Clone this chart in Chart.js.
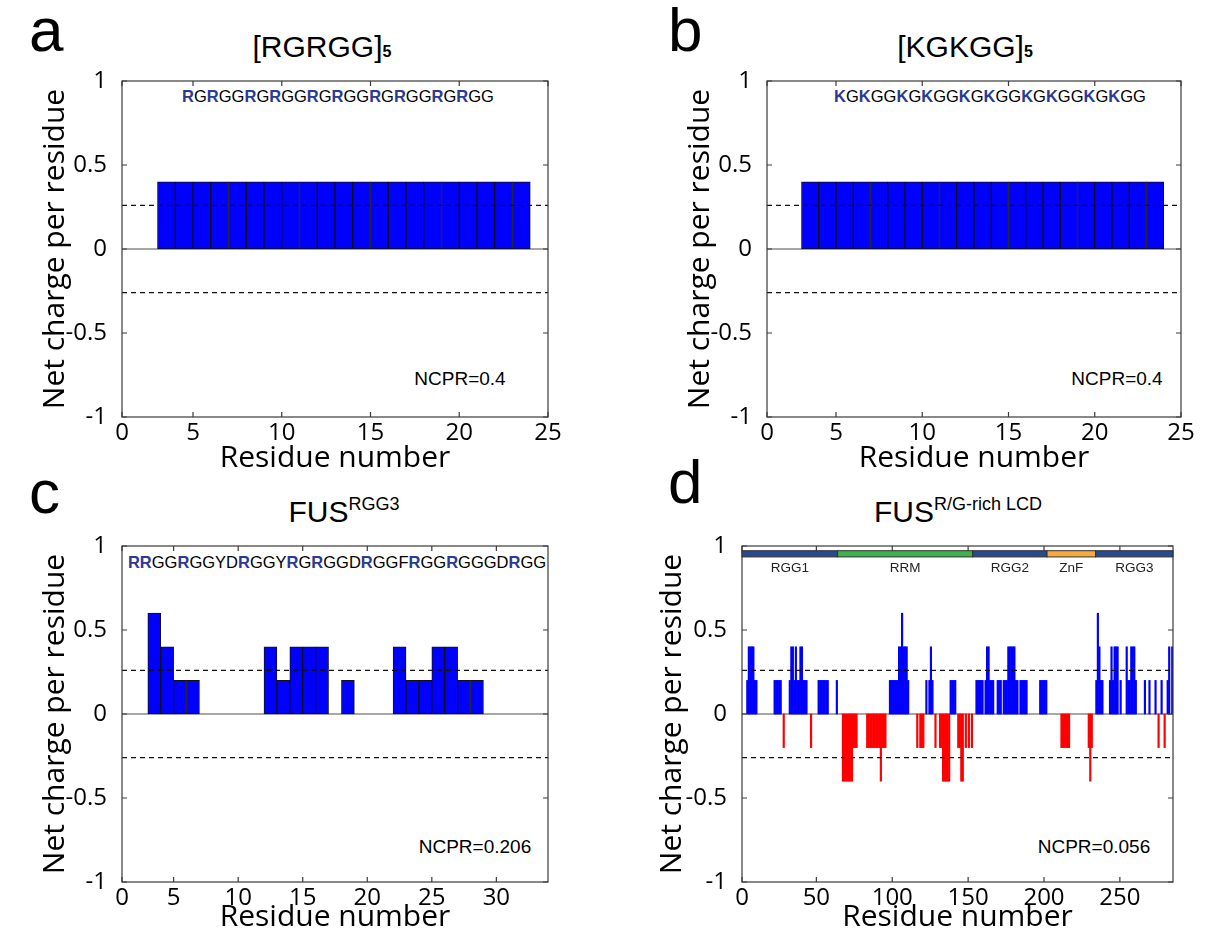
<!DOCTYPE html>
<html>
<head>
<meta charset="utf-8">
<script src="https://cdn.jsdelivr.net/npm/chart.js@4.4.1/dist/chart.umd.min.js"></script>
<style>
  body { margin: 0; background: #fff; width: 1209px; height: 938px; position: relative; overflow: hidden;
         font-family: "Liberation Sans", Arial, sans-serif; color: #000; }
  .pane { position: absolute; }
  .letter { position: absolute; font-size: 62px; line-height: 1; }
  .ttl { position: absolute; font-size: 30px; line-height: 1; transform: translateX(-50%); white-space: nowrap; }
  .ttl .sb { font-size: 16px; font-weight: bold; }
  .ttl sup { font-size: 18px; vertical-align: 12px; line-height: 0; }
  .seq { position: absolute; font-size: 16.5px; line-height: 1; transform: translateX(-50%); white-space: nowrap; }
  .seq b { color: #2b3a92; }
  .ncpr { position: absolute; font-size: 19px; line-height: 1; transform: translateX(-50%); white-space: nowrap; }
</style>
</head>
<body>

<div class="letter" style="left:29px;top:-1px">a</div>
<div class="letter" style="left:668px;top:-1px">b</div>
<div class="letter" style="left:29px;top:461px">c</div>
<div class="letter" style="left:668px;top:451px">d</div>

<div class="ttl" style="left:322px;top:32px">[RGRGG]<span class="sb">5</span></div>
<div class="ttl" style="left:965px;top:32px">[KGKGG]<span class="sb">5</span></div>
<div class="ttl" style="left:344px;top:497px">FUS<sup>RGG3</sup></div>
<div class="ttl" style="left:958px;top:497px">FUS<sup>R/G-rich LCD</sup></div>

<div class="seq" style="left:338px;top:88px"><b>R</b>G<b>R</b>GG<b>R</b>G<b>R</b>GG<b>R</b>G<b>R</b>GG<b>R</b>G<b>R</b>GG<b>R</b>G<b>R</b>GG</div>
<div class="seq" style="left:990px;top:88px"><b>K</b>G<b>K</b>GG<b>K</b>G<b>K</b>GG<b>K</b>G<b>K</b>GG<b>K</b>G<b>K</b>GG<b>K</b>G<b>K</b>GG</div>
<div class="seq" style="left:337px;top:554px"><b>RR</b>GG<b>R</b>GGYD<b>R</b>GGY<b>R</b>G<b>R</b>GGD<b>R</b>GGF<b>R</b>GG<b>R</b>GGGD<b>R</b>GG</div>

<div class="ncpr" style="left:460px;top:369px">NCPR=0.4</div>
<div class="ncpr" style="left:1117px;top:369px">NCPR=0.4</div>
<div class="ncpr" style="left:475px;top:837px">NCPR=0.206</div>
<div class="ncpr" style="left:1094px;top:837px">NCPR=0.056</div>

<canvas id="panelA" class="pane"></canvas>
<canvas id="panelB" class="pane"></canvas>
<canvas id="panelC" class="pane"></canvas>
<canvas id="panelD" class="pane"></canvas>

<script>
// values: net charge per residue, window centred on each residue

const yTickVals = [-1, -0.5, 0, 0.5, 1];
const yTickText = ['-1', '-0.5', '0', '0.5', '1'];
const cutoffs = [0.26, -0.26];

// a: [RGRGG]5
const residuesA = [3, 4, 5, 6, 7, 8, 9, 10, 11, 12, 13, 14, 15, 16, 17, 18, 19, 20, 21, 22, 23];
const ncprA = [0.4, 0.4, 0.4, 0.4, 0.4, 0.4, 0.4, 0.4, 0.4, 0.4, 0.4, 0.4, 0.4, 0.4, 0.4, 0.4, 0.4, 0.4, 0.4, 0.4, 0.4];
// b: [KGKGG]5
const residuesB = [3, 4, 5, 6, 7, 8, 9, 10, 11, 12, 13, 14, 15, 16, 17, 18, 19, 20, 21, 22, 23];
const ncprB = [0.4, 0.4, 0.4, 0.4, 0.4, 0.4, 0.4, 0.4, 0.4, 0.4, 0.4, 0.4, 0.4, 0.4, 0.4, 0.4, 0.4, 0.4, 0.4, 0.4, 0.4];
const xTicksAB = [1, 5, 10, 15, 20, 25];
const xTickTextAB = ['0', '5', '10', '15', '20', '25'];

// c: FUS RGG3
const residuesC = [3, 4, 5, 6, 7, 8, 9, 10, 11, 12, 13, 14, 15, 16, 17, 18, 19, 20, 21, 22, 23, 24, 25, 26, 27, 28, 29, 30, 31, 32];
const ncprC = [0.6, 0.4, 0.2, 0.2, 0, 0, 0, 0, 0, 0.4, 0.2, 0.4, 0.4, 0.4, 0, 0.2, 0, 0, 0, 0.4, 0.2, 0.2, 0.4, 0.4, 0.2, 0.2, 0, 0, 0, 0];
const xTicksC = [1, 5, 10, 15, 20, 25, 30];
const xTickTextC = ['0', '5', '10', '15', '20', '25', '30'];

// d: FUS R/G-rich LCD, residues 1..284
const ncprD = [
  0, 0, 0, 0.2, 0.4, 0.4, 0.4, 0.4, 0.2, 0.2,
  0, 0, 0, 0, 0, 0, 0, 0, 0, 0,
  0, 0.2, 0.2, 0.2, 0.2, 0.2, 0, -0.2, 0, 0,
  0, 0.2, 0.4, 0.4, 0.2, 0.4, 0.2, 0.2, 0.4, 0.4,
  0.2, 0.2, 0.2, 0, 0, -0.2, 0, 0, 0, 0,
  0.2, 0.2, 0.2, 0.2, 0.2, 0.2, 0.2, 0, 0, 0,
  0, 0, 0.2, 0, 0, 0, -0.4, -0.4, -0.4, -0.4,
  -0.4, -0.4, -0.4, -0.2, -0.2, -0.2, 0, 0, 0, 0,
  0, 0, -0.2, -0.2, -0.2, -0.2, -0.2, -0.2, -0.2, -0.2,
  -0.2, -0.4, -0.2, -0.2, -0.2, 0, 0, 0.2, 0.2, 0.2,
  0.2, 0.2, 0.2, 0.4, 0.4, 0.6, 0.4, 0.4, 0.4, 0.2,
  0, 0, 0, 0, 0, -0.2, 0, -0.2, -0.2, -0.2,
  0, 0.2, 0, 0.2, 0.4, 0.2, 0, -0.2, 0, 0,
  -0.2, -0.2, -0.4, -0.4, -0.4, -0.4, -0.4, 0.2, 0.2, 0.2,
  0.2, 0, -0.2, -0.2, -0.4, -0.4, 0, -0.2, 0, -0.2,
  0, -0.2, 0, 0, 0.2, 0.2, 0.2, 0.2, 0.2, 0,
  0.2, 0.4, 0.4, 0.2, 0.2, 0.2, 0, 0, 0.2, 0.2,
  0.2, 0, 0.2, 0.2, 0.2, 0.4, 0.4, 0.4, 0.4, 0.4,
  0.2, 0.2, 0, 0.2, 0.2, 0.2, 0.2, 0.2, 0, 0,
  0, 0, 0, 0, 0, 0, 0.2, 0.2, 0.2, 0.2,
  0.2, 0, 0, 0, 0, 0, 0, 0, 0, 0,
  -0.2, -0.2, -0.2, -0.2, -0.2, -0.2, 0, 0, 0, 0,
  0, 0, 0, 0, 0, 0, 0, 0, -0.2, -0.4,
  -0.2, 0, 0, 0.2, 0.6, 0.4, 0.2, 0.2, 0, 0,
  0, 0, 0.2, 0.4, 0.2, 0.4, 0.4, 0.4, 0, 0.2,
  0, 0, 0, 0.4, 0.2, 0.2, 0.4, 0.4, 0.4, 0.2,
  0, 0, 0, 0, 0, 0.2, 0, 0, 0.2, 0,
  0, 0, 0.2, 0, -0.2, 0, 0.2, 0, -0.2, 0,
  0.2, 0.4, 0, 0.4
];
const xTicksD = [1, 50, 100, 150, 200, 250];
const xTickTextD = ['0', '50', '100', '150', '200', '250'];

// domain map above panel d
const domainNames = ['RGG1', 'RRM', 'RGG2', 'ZnF', 'RGG3'];
const domainStart = [1, 64, 153, 202, 234];
const domainEnd = [64, 153, 202, 234, 285];
const domainColors = ['#284a90', '#3cb44b', '#284a90', '#f8a93e', '#284a90'];

const tickFont = { family: 'Open Sans', size: 24, lineHeight: 1 };
const titleFont = { family: 'Open Sans', size: 30, lineHeight: 1 };

// frame, zero line, dashed cut-offs, inward ticks (MATLAB look)
const framePlugin = {
  id: 'frame',
  beforeDatasetsDraw(chart) {
    const { ctx, chartArea: a, scales: { y } } = chart;
    const y0 = y.getPixelForValue(0);
    ctx.save();
    ctx.strokeStyle = '#8a8a8a';
    ctx.lineWidth = 1.3;
    ctx.beginPath();
    ctx.moveTo(a.left, y0);
    ctx.lineTo(a.right, y0);
    ctx.stroke();
    ctx.restore();
  },
  afterDatasetsDraw(chart) {
    const { ctx, chartArea: a, scales: { x, y } } = chart;
    ctx.save();
    ctx.strokeStyle = '#111';
    ctx.lineWidth = 1.3;
    ctx.setLineDash([5, 4]);
    cutoffs.forEach(c => {
      const py = y.getPixelForValue(c);
      ctx.beginPath();
      ctx.moveTo(a.left, py);
      ctx.lineTo(a.right, py);
      ctx.stroke();
    });
    ctx.setLineDash([]);
    ctx.strokeStyle = '#3a3a3a';
    ctx.lineWidth = 1.2;
    ctx.strokeRect(a.left, a.top, a.right - a.left, a.bottom - a.top);
    const len = 5;
    ctx.beginPath();
    x.ticks.forEach(t => {
      const px = x.getPixelForValue(t.value);
      ctx.moveTo(px, a.bottom); ctx.lineTo(px, a.bottom - len);
      ctx.moveTo(px, a.top); ctx.lineTo(px, a.top + len);
    });
    y.ticks.forEach(t => {
      const py = y.getPixelForValue(t.value);
      ctx.moveTo(a.left, py); ctx.lineTo(a.left + len, py);
      ctx.moveTo(a.right, py); ctx.lineTo(a.right - len, py);
    });
    ctx.stroke();
    ctx.restore();
  }
};

const domainPlugin = {
  id: 'domains',
  afterDatasetsDraw(chart) {
    const { ctx, scales: { x, y } } = chart;
    const top = y.getPixelForValue(0.972);
    const bot = y.getPixelForValue(0.935);
    ctx.save();
    domainNames.forEach((name, i) => {
      const x0 = x.getPixelForValue(domainStart[i]);
      const x1 = x.getPixelForValue(domainEnd[i]);
      ctx.fillStyle = domainColors[i];
      ctx.fillRect(x0, top, x1 - x0, bot - top);
      ctx.strokeStyle = '#333';
      ctx.lineWidth = 1;
      ctx.strokeRect(x0, top, x1 - x0, bot - top);
      ctx.fillStyle = '#222';
      ctx.font = '13.5px "Liberation Sans", Arial, sans-serif';
      ctx.textAlign = 'center';
      ctx.textBaseline = 'middle';
      ctx.fillText(name, (x0 + x1) / 2, bot + 11);
    });
    ctx.restore();
  }
};

function makePanel(id, box, area, cfg) {
  const cv = document.getElementById(id);
  cv.width = box.w; cv.height = box.h;
  cv.style.left = box.x + 'px'; cv.style.top = box.y + 'px';
  cv.style.width = box.w + 'px'; cv.style.height = box.h + 'px';
  return new Chart(cv.getContext('2d'), {
    type: 'bar',
    data: {
      datasets: [{
        data: cfg.x.map((r, i) => ({ x: r + 0.5, y: cfg.y[i] })),
        backgroundColor: cfg.color,
        borderColor: cfg.border,
        // empty windows get no outline and no anti-alias inflation
        borderWidth: c => (c.raw && c.raw.y === 0 ? 0 : cfg.borderWidth),
        inflateAmount: c => (c.raw && c.raw.y === 0 ? 0 : 'auto'),
        borderSkipped: false,
        barPercentage: 1,
        categoryPercentage: 1
      }]
    },
    options: {
      responsive: false,
      animation: false,
      layout: { padding: { top: area.t - box.y, right: box.x + box.w - area.r, left: 0, bottom: 0 } },
      plugins: { legend: { display: false }, tooltip: { enabled: false } },
      scales: {
        x: {
          type: 'linear', min: cfg.xmin, max: cfg.xmax, offset: false,
          grid: { display: false }, border: { display: false },
          afterBuildTicks: s => { s.ticks = cfg.xt.map(v => ({ value: v })); },
          afterFit: s => { s.height = box.y + box.h - area.b; },
          ticks: { autoSkip: false, maxRotation: 0, padding: -4, color: '#000', font: tickFont,
                   callback: (v, i) => cfg.xl[i] },
          title: { display: true, text: 'Residue number', color: '#000', font: titleFont,
                   padding: { top: 0, bottom: cfg.xtPad } }
        },
        y: {
          min: -1, max: 1,
          grid: { display: false }, border: { display: false },
          afterBuildTicks: s => { s.ticks = yTickVals.map(v => ({ value: v })); },
          afterFit: s => { s.width = area.l - box.x; },
          ticks: { autoSkip: false, padding: 7, color: '#000', font: tickFont,
                   callback: (v, i) => yTickText[i] },
          title: { display: true, text: 'Net charge per residue', color: '#000', font: titleFont,
                   padding: { top: cfg.ytPad, bottom: 0 } }
        }
      }
    },
    plugins: cfg.extra ? [framePlugin, cfg.extra] : [framePlugin]
  });
}

makePanel('panelA', { x: 0, y: 0, w: 600, h: 475 }, { l: 122, t: 81, r: 548, b: 417 }, {
  x: residuesA, y: ncprA, color: '#0000ff', border: '#111', borderWidth: 1,
  xmin: 1, xmax: 25, xt: xTicksAB, xl: xTickTextAB, xtPad: 2, ytPad: 40
});

makePanel('panelB', { x: 620, y: 0, w: 589, h: 475 }, { l: 767, t: 81, r: 1181, b: 417 }, {
  x: residuesB, y: ncprB, color: '#0000ff', border: '#111', borderWidth: 1,
  xmin: 1, xmax: 25, xt: xTicksAB, xl: xTickTextAB, xtPad: 2, ytPad: 65
});

makePanel('panelC', { x: 0, y: 470, w: 600, h: 468 }, { l: 122, t: 546, r: 548, b: 882 }, {
  x: residuesC, y: ncprC, color: '#0000ff', border: '#111', borderWidth: 1,
  xmin: 1, xmax: 34, xt: xTicksC, xl: xTickTextC, xtPad: 6, ytPad: 40
});

makePanel('panelD', { x: 620, y: 470, w: 589, h: 468 }, { l: 742, t: 546, r: 1173, b: 882 }, {
  x: ncprD.map((v, i) => i + 1), y: ncprD,
  color: c => (c.raw && c.raw.y < 0 ? '#ff0000' : '#0000ff'), border: 'rgba(0,0,0,0)', borderWidth: 0,
  xmin: 1, xmax: 285, xt: xTicksD, xl: xTickTextD, xtPad: 6, ytPad: 37, extra: domainPlugin
});
</script>
</body>
</html>
